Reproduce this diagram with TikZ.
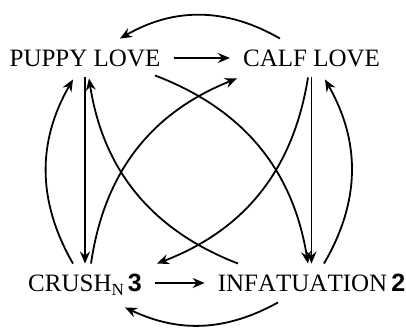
\documentclass[tikz,border=0pt]{standalone}
\usepackage{fontspec}
\setmainfont{Liberation Serif}[Kerning=Off]
\newfontfamily\numfont{Liberation Sans}
\usetikzlibrary{arrows.meta}
\begin{document}
\begin{tikzpicture}[x=1pt,y=1pt,
  lbl/.style={font=\fontsize{25}{30}\selectfont, inner xsep=13pt, inner ysep=11pt, text height=16.5pt, text depth=0pt},
  arr/.style={-{Stealth[length=12pt,width=10pt,inset=4pt]}, line width=1.8pt}]
\useasboundingbox (0,0) rectangle (406,-327);
\node[lbl] (pl) at (85,-58) {PUPPY LOVE};
\node[lbl] (cl) at (311.5,-58) {CALF LOVE};
\node[lbl] (cr) at (85,-283) {CRUSH\raisebox{-4.5pt}{\fontsize{17}{17}\selectfont N}\hspace{4pt}{\numfont\bfseries 3}};
\node[lbl] (inf) at (311.5,-283) {INFATUATION\hspace{4pt}{\numfont\bfseries 2}};
% straight arrows
\draw[arr] (pl.east) -- (cl.west);
\draw[arr] (cr.east) -- (inf.west);
\draw[arr] (pl.south) -- (cr.north);
\draw[arr] (cl.south) -- (inf.north);
% outer arcs
\draw[arr] ([xshift=-31.5pt]cl.north) to[bend right=30] ([xshift=35pt]pl.north);
\draw[arr] ([xshift=-33.5pt]inf.south) to[bend left=27] ([xshift=40pt,yshift=-5pt]cr.south);
\draw[arr] ([xshift=-12pt]cr.north) to[bend left=30] ([xshift=-12pt,yshift=-2pt]pl.south);
\draw[arr] ([xshift=12.5pt]inf.north) to[bend right=30] ([xshift=13.5pt,yshift=-2pt]cl.south);
% diagonals
\draw[arr] ([xshift=70pt,yshift=2pt]pl.south) to[bend left=30] ([xshift=-3.5pt]inf.north);
\draw[arr] ([xshift=-3.5pt]cl.south) to[bend left=30] ([xshift=72pt]cr.north);
\draw[arr] ([xshift=-73.5pt]inf.north) to[bend left=30] ([xshift=4pt,yshift=-1pt]pl.south);
\draw[arr] ([xshift=6pt]cr.north) to[bend left=30] ([xshift=-74.5pt,yshift=-1pt]cl.south);
\end{tikzpicture}
\end{document}
